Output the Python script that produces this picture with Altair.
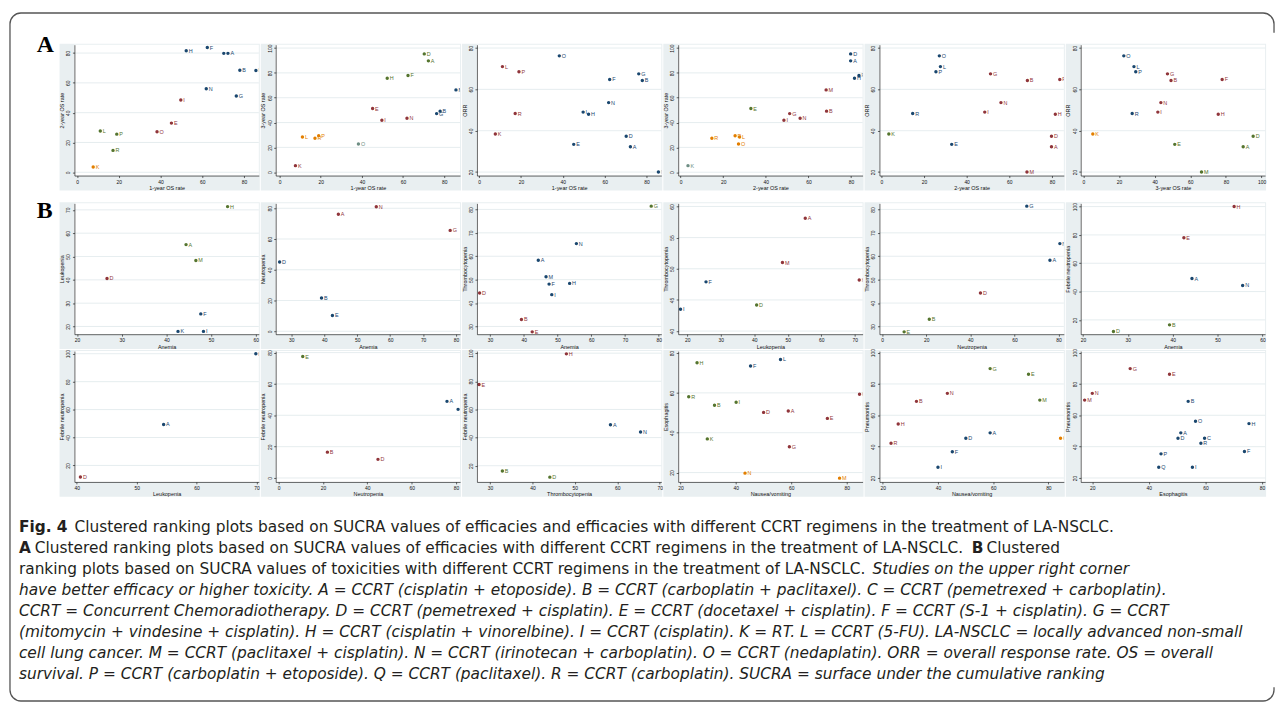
import altair as alt
import pandas as pd

# ---------------- data: efficacy SUCRA (%) per regimen ----------------
REGIMENS = ["A", "B", "D", "E", "F", "G", "H", "I", "K", "L", "M", "N", "O", "P", "R"]
OS_1Y = [72.3, 78.0, 70.3, 45.2, 62.4, 76.3, 52.3, 49.7, 7.7, 11.1, 85.7, 61.9, 38.3, 19.0, 17.2]
OS_2Y = [79.8, 68.5, 79.8, 33.0, 83.7, 51.2, 81.6, 48.5, 3.5, 27.7, 68.3, 56.1, 27.2, 25.6, 14.7]
OS_3Y = [89.7, 49.2, 95.3, 51.3, 77.9, 47.2, 75.7, 41.8, 5.3, 28.4, 66.3, 43.5, 22.7, 29.4, 27.4]
ORR = [32.2, 64.3, 37.3, 33.4, 64.8, 67.5, 48.0, 49.0, 38.4, 71.0, 20.0, 53.6, 76.2, 68.5, 48.3]

# cluster of each regimen in each efficacy panel (n navy, m maroon, g green, o orange, t teal)
A1_GROUP = ["n", "n", "n", "m", "n", "n", "n", "m", "o", "g", "n", "n", "m", "g", "g"]
A2_GROUP = ["g", "n", "g", "m", "g", "n", "g", "m", "m", "o", "n", "m", "t", "o", "o"]
A3_GROUP = ["n", "n", "n", "n", "n", "n", "n", "n", "m", "m", "n", "n", "n", "m", "m"]
A4_GROUP = ["n", "m", "n", "g", "n", "m", "n", "m", "t", "o", "m", "m", "o", "o", "o"]
A5_GROUP = ["m", "m", "m", "n", "m", "m", "m", "m", "g", "n", "m", "m", "n", "n", "n"]
A6_GROUP = ["g", "m", "g", "g", "m", "m", "m", "m", "o", "n", "g", "m", "n", "n", "n"]

# ---------------- data: toxicity SUCRA (%) per panel ----------------
B1_LABELS = ["H", "A", "M", "D", "F", "K", "I"]
B1_X = [53.7, 44.4, 46.6, 26.7, 47.7, 42.6, 48.3]
B1_Y = [71.4, 55.1, 48.3, 40.6, 25.4, 17.9, 17.9]
B1_GROUP = ["g", "g", "g", "m", "n", "n", "n"]

B2_LABELS = ["N", "A", "G", "D", "B", "E"]
B2_X = [55.8, 44.3, 78.2, 26.5, 39.2, 42.5]
B2_Y = [81.0, 76.1, 65.6, 45.0, 21.6, 10.3]
B2_GROUP = ["m", "m", "m", "n", "n", "n"]

B3_LABELS = ["G", "N", "A", "M", "F", "H", "I", "D", "B", "E"]
B3_X = [77.8, 55.6, 44.3, 46.6, 47.5, 53.6, 48.3, 26.9, 39.3, 42.5]
B3_Y = [81.4, 65.4, 58.3, 51.2, 48.1, 48.4, 43.6, 44.3, 33.0, 27.7]
B3_GROUP = ["g", "n", "n", "n", "n", "n", "n", "m", "m", "m"]

B4_LABELS = ["A", "M", "H", "F", "I", "D"]
B4_X = [55.2, 48.4, 71.3, 25.6, 18.0, 40.7]
B4_Y = [58.1, 51.0, 48.2, 47.9, 43.5, 44.2]
B4_GROUP = ["m", "m", "m", "n", "n", "g"]

B5_LABELS = ["G", "N", "A", "D", "B", "E"]
B5_X = [65.6, 80.6, 76.1, 44.6, 21.4, 10.0]
B5_Y = [81.4, 65.4, 58.3, 44.3, 33.1, 27.7]
B5_GROUP = ["n", "n", "n", "m", "g", "g"]

B6_LABELS = ["H", "E", "A", "N", "B", "D"]
B6_X = [53.7, 42.5, 44.3, 55.6, 39.3, 26.8]
B6_Y = [100.0, 78.0, 49.2, 44.3, 16.5, 11.8]
B6_GROUP = ["m", "m", "n", "n", "g", "g"]

B7_LABELS = ["H", "A", "D"]
B7_X = [69.9, 54.5, 40.6]
B7_Y = [100.0, 49.3, 11.7]
B7_GROUP = ["n", "n", "m"]

B8_LABELS = ["E", "B", "D", "A", "N"]
B8_X = [10.9, 22.0, 44.8, 75.9, 80.9]
B8_Y = [77.5, 16.5, 11.9, 48.9, 43.8]
B8_GROUP = ["g", "m", "m", "n", "n"]

B9_LABELS = ["H", "E", "A", "N", "B", "D"]
B9_X = [48.0, 27.4, 58.4, 65.5, 32.9, 44.1]
B9_Y = [99.5, 77.7, 49.1, 44.0, 16.3, 11.9]
B9_GROUP = ["m", "m", "n", "n", "g", "g"]

B10_LABELS = ["L", "H", "F", "C", "R", "I", "B", "D", "A", "E", "K", "G", "N", "M"]
B10_X = [56.1, 26.0, 45.3, 84.6, 23.0, 40.1, 32.3, 50.0, 58.9, 73.0, 29.7, 59.3, 43.3, 77.4]
B10_Y = [76.8, 75.1, 73.5, 59.3, 58.1, 55.3, 53.8, 50.2, 50.9, 47.2, 36.9, 33.0, 19.7, 17.2]
B10_GROUP = ["n", "g", "n", "m", "g", "g", "g", "m", "m", "m", "g", "m", "o", "o"]

B11_LABELS = ["G", "E", "M", "N", "B", "H", "R", "A", "D", "F", "I", "C"]
B11_X = [58.9, 72.8, 76.9, 43.4, 32.2, 25.6, 23.0, 58.9, 50.1, 45.2, 40.0, 84.4]
B11_Y = [89.8, 86.2, 69.7, 74.0, 68.9, 54.5, 42.2, 48.8, 45.4, 36.7, 26.8, 45.4]
B11_GROUP = ["g", "g", "g", "m", "m", "m", "m", "n", "n", "n", "n", "o"]

B12_LABELS = ["G", "E", "N", "M", "B", "O", "H", "A", "D", "C", "R", "F", "P", "Q", "I"]
B12_X = [33.4, 47.3, 20.0, 17.3, 53.9, 56.5, 75.4, 51.3, 50.3, 59.7, 58.4, 73.8, 44.3, 43.5, 55.4]
B12_Y = [89.8, 86.2, 74.0, 69.7, 68.9, 56.2, 54.7, 48.8, 45.4, 45.4, 42.2, 36.9, 35.4, 26.8, 26.8]
B12_GROUP = ["m", "m", "m", "m", "n", "n", "n", "n", "n", "n", "n", "n", "n", "n", "n"]

# ---------------- caption text ----------------
CAP_L1_BOLD = "Fig. 4"
CAP_L1 = ("Clustered ranking plots based on SUCRA values of efficacies and efficacies with "
          "different CCRT regimens in the treatment of LA-NSCLC.")
CAP_L2_A = "A"
CAP_L2 = ("Clustered ranking plots based on SUCRA values of efficacies with different CCRT "
          "regimens in the treatment of LA-NSCLC.")
CAP_L2_B = "B"
CAP_L2_END = "Clustered"
CAP_L3 = ("ranking plots based on SUCRA values of toxicities with different CCRT regimens in "
          "the treatment of LA-NSCLC.")
CAP_L3_IT = "Studies on the upper right corner"
CAP_ITALIC = [
    "have better efficacy or higher toxicity. A = CCRT (cisplatin + etoposide). B = CCRT (carboplatin + paclitaxel). C = CCRT (pemetrexed + carboplatin).",
    "CCRT = Concurrent Chemoradiotherapy. D = CCRT (pemetrexed + cisplatin). E = CCRT (docetaxel + cisplatin). F = CCRT (S-1 + cisplatin). G = CCRT",
    "(mitomycin + vindesine + cisplatin). H = CCRT (cisplatin + vinorelbine). I = CCRT (cisplatin). K = RT. L = CCRT (5-FU). LA-NSCLC = locally advanced non-small",
    "cell lung cancer. M = CCRT (paclitaxel + cisplatin). N = CCRT (irinotecan + carboplatin). O = CCRT (nedaplatin). ORR = overall response rate. OS = overall",
    "survival. P = CCRT (carboplatin + etoposide). Q = CCRT (paclitaxel). R = CCRT (carboplatin). SUCRA = surface under the cumulative ranking",
]

# ---------------- styling ----------------
W = 186
PLOT_H = 132
GRAY = "#e9eff1"
GRIDC = "#e0e8eb"
COLORS = {"n": "#1a476f", "m": "#90353b", "g": "#55752f", "o": "#e37e00", "t": "#6e8e84"}
FONT = "Liberation Sans"
CAP_FONT = "DejaVu Sans"
CAP_SIZE = 15.5
TXT = "#231f20"

ONE = pd.DataFrame({"k": [0]})


def panel(labels, xv, yv, groups, xtitle, ytitle, xdom, ydom, xticks, yticks,
          view_h, tag=None, tag_y=0, hide=()):
    df = pd.DataFrame({
        "lab": [("" if l in hide else l) for l in labels],
        "x": xv, "y": yv,
        "col": [COLORS[g] for g in groups],
    })
    xsc = alt.Scale(domain=xdom, nice=False, zero=False)
    ysc = alt.Scale(domain=ydom, nice=False, zero=False, range=[PLOT_H, 0])
    xaxis = alt.Axis(title=xtitle, values=xticks, offset=PLOT_H - view_h, zindex=1)
    yaxis = alt.Axis(title=ytitle, values=yticks, zindex=1, labelAngle=270,
                     labelAlign="center", labelBaseline="bottom")
    layers = [
        alt.Chart(ONE).mark_rect(color=GRAY).encode(
            x=alt.value(-15), x2=alt.value(W + 1), y=alt.value(-1), y2=alt.value(PLOT_H + 15)),
        alt.Chart(ONE).mark_rect(color="white").encode(
            x=alt.value(0), x2=alt.value(W), y=alt.value(0), y2=alt.value(PLOT_H)),
        alt.Chart(pd.DataFrame({"y": yticks})).mark_rule(color=GRIDC, strokeWidth=0.8).encode(
            y=alt.Y("y:Q", scale=ysc, axis=yaxis), x=alt.value(0), x2=alt.value(W)),
    ]
    base = alt.Chart(df).encode(
        x=alt.X("x:Q", scale=xsc, axis=xaxis),
        y=alt.Y("y:Q", scale=ysc, axis=yaxis),
        color=alt.Color("col:N", scale=None),
    )
    layers.append(base.mark_point(filled=True, size=12, opacity=1, clip=True))
    layers.append(base.mark_text(align="left", baseline="middle", dx=2.5, fontSize=5.5,
                                 font=FONT, clip=True).encode(text="lab:N"))
    if tag:
        layers.append(alt.Chart(ONE).mark_text(
            text=tag, font="Liberation Serif", fontWeight="bold", fontSize=24,
            align="left", baseline="alphabetic", color="black").encode(
            x=alt.value(-38), y=alt.value(tag_y)))
    return alt.layer(*layers).properties(width=W, height=view_h)


def eff(xvals, yvals, groups, xt, yt, xdom, ydom, xticks, yticks, **kw):
    return panel(REGIMENS, xvals, yvals, groups, xt, yt, xdom, ydom, xticks, yticks,
                 PLOT_H + 11, **kw)


T20_80 = [0, 20, 40, 60, 80]
T0_100 = [0, 20, 40, 60, 80, 100]
T20_80b = [20, 40, 60, 80]
T20_100 = [20, 40, 60, 80, 100]

row1 = [
    eff(OS_1Y, OS_2Y, A1_GROUP, "1-year OS rate", "2-year OS rate", [-1.3, 87.1], [-2.2, 85.6],
        T20_80, T20_80, tag="A", tag_y=7, hide=("D",)),
    eff(OS_1Y, OS_3Y, A2_GROUP, "1-year OS rate", "3-year OS rate", [-1.9, 87.7], [-2.7, 102.7],
        T20_80, T0_100),
    eff(OS_1Y, ORR, A3_GROUP, "1-year OS rate", "ORR", [-1.1, 87.1], [18.3, 81.6],
        T20_80, T20_80b),
    eff(OS_2Y, OS_3Y, A4_GROUP, "2-year OS rate", "3-year OS rate", [-1.1, 85.4], [-2.7, 102.7],
        T20_80, T0_100),
    eff(OS_2Y, ORR, A5_GROUP, "2-year OS rate", "ORR", [-0.9, 85.6], [18.3, 81.6],
        T20_80, T20_80b),
    eff(OS_3Y, ORR, A6_GROUP, "3-year OS rate", "ORR", [-1.5, 102.0], [18.3, 81.6],
        T0_100, T20_80b),
]

row2 = [
    panel(B1_LABELS, B1_X, B1_Y, B1_GROUP, "Anemia", "Leukopenia", [19.4, 60.7], [16.7, 72.8],
          [20, 30, 40, 50, 60], [20, 30, 40, 50, 60, 70], PLOT_H, tag="B", tag_y=15),
    panel(B2_LABELS, B2_X, B2_Y, B2_GROUP, "Anemia", "Neutropenia", [25.3, 81.2], [-1.9, 83.2],
          [30, 40, 50, 60, 70, 80], T20_80, PLOT_H),
    panel(B3_LABELS, B3_X, B3_Y, B3_GROUP, "Anemia", "Thrombocytopenia", [26.1, 80.8], [26.7, 82.6],
          [30, 40, 50, 60, 70, 80], [30, 40, 50, 60, 70, 80], PLOT_H),
    panel(B4_LABELS, B4_X, B4_Y, B4_GROUP, "Leukopenia", "Thrombocytopenia", [17.3, 72.3], [39.5, 60.5],
          [20, 30, 40, 50, 60, 70], [40, 45, 50, 55, 60], PLOT_H),
    panel(B5_LABELS, B5_X, B5_Y, B5_GROUP, "Neutropenia", "Thrombocytopenia", [-1.2, 82.4], [26.7, 82.6],
          T20_80, [30, 40, 50, 60, 70, 80], PLOT_H),
    panel(B6_LABELS, B6_X, B6_Y, B6_GROUP, "Anemia", "Febrile neutropenia", [19.5, 60.6], [9.9, 102.3],
          [20, 30, 40, 50, 60], T20_100, PLOT_H),
]

row3 = [
    panel(B7_LABELS, B7_X, B7_Y, B7_GROUP, "Leukopenia", "Febrile neutropenia", [39.6, 70.4], [8.2, 101.9],
          [40, 50, 60, 70], T20_100, PLOT_H),
    panel(B8_LABELS, B8_X, B8_Y, B8_GROUP, "Neutropenia", "Febrile neutropenia", [-1.3, 81.8], [-2.5, 81.0],
          T20_80, T20_80, PLOT_H),
    panel(B9_LABELS, B9_X, B9_Y, B9_GROUP, "Thrombocytopenia", "Febrile neutropenia", [26.9, 70.4], [8.5, 101.5],
          [30, 40, 50, 60, 70], T20_100, PLOT_H),
    panel(B10_LABELS, B10_X, B10_Y, B10_GROUP, "Nausea/vomiting", "Esophagitis", [19.2, 85.7], [15.3, 81.0],
          T20_80b, T20_80b, PLOT_H),
    panel(B11_LABELS, B11_X, B11_Y, B11_GROUP, "Nausea/vomiting", "Pneumonitis", [18.8, 85.6], [17.5, 101.0],
          T20_80b, T20_100, PLOT_H),
    panel(B12_LABELS, B12_X, B12_Y, B12_GROUP, "Esophagitis", "Pneumonitis", [15.9, 81.1], [17.5, 101.0],
          T20_80b, T20_100, PLOT_H),
]

# ---------------- caption ----------------
LINE0 = 29
LSTEP = 21.1
LEFT = -56


def seg(text, x, line, weight="normal", style="normal"):
    return alt.Chart(ONE).mark_text(
        align="left", baseline="middle", font=CAP_FONT, fontSize=CAP_SIZE,
        fontWeight=weight, fontStyle=style, color=TXT).encode(
        x=alt.value(x), y=alt.value(LINE0 + LSTEP * line), text=alt.value(text))


cap_layers = [
    alt.Chart(ONE).mark_rect(fill="white", fillOpacity=0, stroke="#555555", strokeWidth=1.3,
                             cornerRadius=11).encode(
        x=alt.value(-65), x2=alt.value(1210), y=alt.value(-490), y2=alt.value(204)),
    alt.Chart(ONE).mark_rect(color="white").encode(
        x=alt.value(1204), x2=alt.value(1211), y=alt.value(-470), y2=alt.value(190)),
    seg(CAP_L1_BOLD, LEFT, 0, weight="bold"),
    seg(CAP_L1, 0, 0),
    seg(CAP_L2_A, LEFT, 1, weight="bold"),
    seg(CAP_L2, -40, 1),
    seg(CAP_L2_B, 905, 1, weight="bold"),
    seg(CAP_L2_END, 920, 1),
    seg(CAP_L3, LEFT, 2),
    seg(CAP_L3_IT, 805, 2, style="italic"),
]
for i, t in enumerate(CAP_ITALIC):
    cap_layers.append(seg(t, LEFT, 3 + i, style="italic"))

caption = alt.layer(*cap_layers).properties(width=W, height=200)

chart = alt.ConcatChart(
    concat=row1 + row2 + row3 + [caption],
    columns=6, align="none", bounds="flush", spacing=17,
    padding={"left": 0, "top": 0, "right": 0, "bottom": 0},
).configure(background="white").configure_view(
    stroke="transparent"
).configure_axis(
    domainColor="#000000", domainWidth=0.6, tickColor="#000000", tickWidth=0.6, tickSize=2,
    labelFont=FONT, labelFontSize=5, labelColor="#111111", labelPadding=1.5, labelFlush=False,
    titleFont=FONT, titleFontSize=5.5, titleFontWeight="normal", titleColor="#111111",
    titlePadding=1.5, grid=False,
)

chart.save("out.html", embed_options={"renderer": "svg", "actions": False})
